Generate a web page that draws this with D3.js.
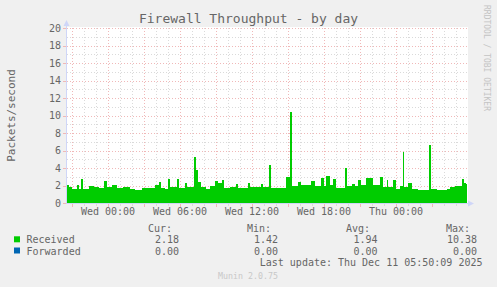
<!DOCTYPE html>
<html lang="en">
<head>
<meta charset="UTF-8">
<title>Firewall Throughput - by day</title>
<script src="https://cdn.jsdelivr.net/npm/d3@7"></script>
<style>
  body { margin: 0; background: #F0F0F0; }
  svg { display: block; font-family: 'DejaVu Sans Mono', monospace; }
</style>
</head>
<body>
<svg width="497" height="287" id="mainsvg"></svg>
<script>
// Received packets/second, one entry per change of value (drawn as steps)
const times = [
  'Tue 20:35','Tue 20:45','Tue 21:00','Tue 21:25','Tue 21:35','Tue 21:45','Tue 21:55','Tue 22:25',
  'Tue 22:50','Tue 23:15','Tue 23:40','Tue 23:55','Wed 00:20','Wed 00:45','Wed 01:15','Wed 01:50',
  'Wed 02:15','Wed 02:50','Wed 03:25','Wed 03:55','Wed 04:15','Wed 04:25','Wed 04:45','Wed 05:00',
  'Wed 05:10','Wed 05:45','Wed 05:55','Wed 06:25','Wed 06:35','Wed 07:10','Wed 07:20','Wed 07:30',
  'Wed 07:45','Wed 08:10','Wed 08:30','Wed 08:55','Wed 09:10','Wed 09:30','Wed 09:40','Wed 10:10',
  'Wed 10:40','Wed 10:50','Wed 11:40','Wed 11:50','Wed 12:45','Wed 12:55','Wed 13:20','Wed 13:25',
  'Wed 13:35','Wed 14:50','Wed 15:10','Wed 15:20','Wed 15:50','Wed 16:05','Wed 16:55','Wed 17:15',
  'Wed 17:45','Wed 18:00','Wed 18:10','Wed 18:30','Wed 18:45','Wed 19:00','Wed 19:45','Wed 19:55',
  'Wed 20:20','Wed 20:35','Wed 20:50','Wed 21:05','Wed 21:30','Wed 22:05','Wed 22:40','Wed 22:55',
  'Wed 23:15','Wed 23:20','Wed 23:45','Thu 00:00','Thu 00:20','Thu 00:35','Thu 00:40','Thu 01:00',
  'Thu 01:20','Thu 01:50','Thu 02:45','Thu 02:55','Thu 03:25','Thu 04:15','Thu 04:30','Thu 04:55',
  'Thu 05:30','Thu 05:40','Thu 05:50'
];
const received = [
  2.10, 1.80, 1.57, 2.10, 1.57, 2.70, 1.57, 1.94,
  1.80, 1.70, 2.55, 1.80, 2.06, 1.70, 1.80, 1.57,
  1.49, 1.70, 1.75, 2.06, 2.43, 1.70, 1.57, 2.80,
  1.87, 2.80, 1.70, 2.25, 1.80, 5.30, 3.80, 2.40,
  1.80, 1.65, 1.90, 2.55, 2.25, 2.60, 1.70, 1.80,
  2.20, 1.70, 2.30, 1.80, 2.20, 1.87, 1.80, 4.30,
  1.68, 3.00, 10.38, 1.94, 2.43, 2.06, 2.55, 1.94,
  2.90, 1.94, 3.10, 2.06, 2.80, 1.68, 3.97, 1.94,
  2.20, 1.94, 2.60, 2.06, 2.90, 2.06, 3.00, 1.87,
  2.60, 1.87, 2.60, 1.57, 2.00, 5.86, 1.87, 2.25,
  1.60, 1.49, 6.60, 1.60, 1.49, 1.60, 1.87, 2.00,
  2.70, 2.30, 2.18
];
const timeRange = ['Tue 20:35', 'Thu 05:55'];
const xLabels = ['Wed 00:00', 'Wed 06:00', 'Wed 12:00', 'Wed 18:00', 'Thu 00:00'];
const yTicks = [0, 2, 4, 6, 8, 10, 12, 14, 16, 18, 20];

// legend
const seriesNames = ['Received', 'Forwarded'];
const seriesColors = ['#00CC00', '#0066B3'];
const statHeads = ['Cur:', 'Min:', 'Avg:', 'Max:'];
const statValues = [
  ['2.18', '1.42', '1.94', '10.38'],
  ['0.00', '0.00', '0.00', '0.00']
];

const days = { Tue: '2025-12-09', Wed: '2025-12-10', Thu: '2025-12-11' };
const parseUtc = d3.utcParse('%Y-%m-%d %H:%M');
const parseT = s => { const [d, hm] = s.split(' '); return parseUtc(days[d] + ' ' + hm); };

const svg = d3.select('svg');
const plot = { left: 67, right: 467, top: 28, bottom: 203 };
const gridGray = '#DADADA', gridRed = '#F0B8B8', axisCol = '#CFD6F8', fontCol = '#666666';
const crisp = v => Math.round(v) + 0.5;

const xScale = d3.scaleUtc().domain(timeRange.map(parseT)).range([plot.left, plot.right]);
const yScale = d3.scaleLinear().domain([0, 20]).range([plot.bottom, plot.top]);

// canvas
svg.append('rect').attr('x', plot.left).attr('y', plot.top - 1)
  .attr('width', plot.right - plot.left + 1).attr('height', plot.bottom - plot.top + 1)
  .attr('fill', '#FFFFFF');

// grid
const grid = svg.append('g').attr('shape-rendering', 'crispEdges')
  .attr('stroke-width', 1).attr('stroke-dasharray', '1,2');
const minorY = yScale.ticks(20).filter(v => !yTicks.includes(v));
const majorX = xScale.ticks(d3.utcHour.every(3));
const minorX = xScale.ticks(d3.utcHour.every(1)).filter(t => t.getUTCHours() % 3 !== 0);

grid.selectAll('.hmin').data(minorY).join('line').attr('class', 'hmin')
  .attr('x1', plot.left).attr('x2', plot.right)
  .attr('y1', d => crisp(yScale(d))).attr('y2', d => crisp(yScale(d))).attr('stroke', gridGray);
grid.selectAll('.vmin').data(minorX).join('line').attr('class', 'vmin')
  .attr('x1', d => crisp(xScale(d))).attr('x2', d => crisp(xScale(d)))
  .attr('y1', plot.top).attr('y2', plot.bottom).attr('stroke', gridGray);
grid.selectAll('.hmaj').data(yTicks.slice(1)).join('line').attr('class', 'hmaj')
  .attr('x1', plot.left).attr('x2', plot.right)
  .attr('y1', d => crisp(yScale(d))).attr('y2', d => crisp(yScale(d))).attr('stroke', gridRed);
grid.selectAll('.vmaj').data(majorX).join('line').attr('class', 'vmaj')
  .attr('x1', d => crisp(xScale(d))).attr('x2', d => crisp(xScale(d)))
  .attr('y1', plot.top).attr('y2', plot.bottom).attr('stroke', gridRed);

// received area
const data = times.map((t, i) => ({ t: parseT(t), v: received[i] }));
data.push({ t: parseT(timeRange[1]), v: received[received.length - 1] });
const area = d3.area().curve(d3.curveStepAfter)
  .x(d => xScale(d.t)).y0(yScale(0)).y1(d => yScale(d.v));
svg.append('path').datum(data).attr('d', area)
  .attr('fill', seriesColors[0]).attr('shape-rendering', 'crispEdges');

// axes + arrows
const axes = svg.append('g').attr('shape-rendering', 'crispEdges');
axes.append('line').attr('x1', plot.left - 0.5).attr('x2', plot.left - 0.5)
  .attr('y1', plot.bottom).attr('y2', plot.top - 4).attr('stroke', axisCol);
axes.append('line').attr('x1', plot.left - 1).attr('x2', plot.right + 3)
  .attr('y1', plot.bottom + 0.5).attr('y2', plot.bottom + 0.5).attr('stroke', axisCol);
svg.append('path').attr('fill', axisCol)
  .attr('d', `M${plot.left - 0.5},${plot.top - 8} l-3,6 l6,0 z`);
svg.append('path').attr('fill', axisCol)
  .attr('d', `M${plot.right + 7},${plot.bottom + 0.5} l-6,-3 l0,6 z`);

// tick marks
axes.selectAll('.ytick').data(yTicks).join('line').attr('class', 'ytick')
  .attr('x1', plot.left - 4).attr('x2', plot.left - 1)
  .attr('y1', d => crisp(yScale(d))).attr('y2', d => crisp(yScale(d))).attr('stroke', gridRed);
axes.selectAll('.xtickmin').data(minorX).join('line').attr('class', 'xtickmin')
  .attr('x1', d => crisp(xScale(d))).attr('x2', d => crisp(xScale(d)))
  .attr('y1', plot.bottom + 1).attr('y2', plot.bottom + 3).attr('stroke', gridGray);
axes.selectAll('.xtickmaj').data(majorX).join('line').attr('class', 'xtickmaj')
  .attr('x1', d => crisp(xScale(d))).attr('x2', d => crisp(xScale(d)))
  .attr('y1', plot.bottom + 1).attr('y2', plot.bottom + 4).attr('stroke', gridRed);

// tick labels
svg.selectAll('.ylab').data(yTicks).join('text').attr('class', 'ylab')
  .attr('x', 61).attr('y', d => yScale(d) + 3.6).attr('text-anchor', 'end')
  .attr('font-size', 10).attr('fill', fontCol).text(d => d);
svg.selectAll('.xlab').data(xLabels).join('text').attr('class', 'xlab')
  .attr('x', d => xScale(parseT(d))).attr('y', 215).attr('text-anchor', 'middle')
  .attr('font-size', 10).attr('fill', fontCol).text(d => d);

// titles
svg.append('text').attr('x', 248.5).attr('y', 23).attr('text-anchor', 'middle')
  .attr('font-size', 13).attr('fill', fontCol).text('Firewall Throughput - by day');
svg.append('text').attr('transform', `translate(15, ${(plot.top + plot.bottom) / 2}) rotate(-90)`)
  .attr('text-anchor', 'middle').attr('font-size', 11).attr('fill', fontCol).text('Packets/second');
svg.append('text').attr('transform', 'translate(484, 5) rotate(90)')
  .attr('font-size', 8).attr('fill', '#C4C4C4').text('RRDTOOL / TOBI OETIKER');

// legend
const headRight = [172, 271, 370, 470];
const valRight = [179, 278, 377.5, 477];
svg.selectAll('.shead').data(statHeads).join('text').attr('class', 'shead')
  .attr('x', (d, i) => headRight[i]).attr('y', 232).attr('text-anchor', 'end')
  .attr('font-size', 10).attr('fill', fontCol).text(d => d);
const rowY = [243.3, 254.5];
seriesNames.forEach((name, r) => {
  svg.append('rect').attr('x', 14).attr('y', rowY[r] - 7).attr('width', 6).attr('height', 6)
    .attr('fill', seriesColors[r]);
  svg.append('text').attr('x', 26.5).attr('y', rowY[r]).attr('font-size', 10)
    .attr('fill', fontCol).text(name);
  svg.selectAll('.sval' + r).data(statValues[r]).join('text').attr('class', 'sval' + r)
    .attr('x', (d, i) => valRight[i]).attr('y', rowY[r]).attr('text-anchor', 'end')
    .attr('font-size', 10).attr('fill', fontCol).text(d => d);
});
svg.append('text').attr('x', 482.5).attr('y', 266).attr('text-anchor', 'end')
  .attr('font-size', 10).attr('fill', fontCol).text('Last update: Thu Dec 11 05:50:09 2025');
svg.append('text').attr('x', 248).attr('y', 279).attr('text-anchor', 'middle')
  .attr('font-size', 8.3).attr('fill', '#C8C8C8').text('Munin 2.0.75');
</script>
</body>
</html>
